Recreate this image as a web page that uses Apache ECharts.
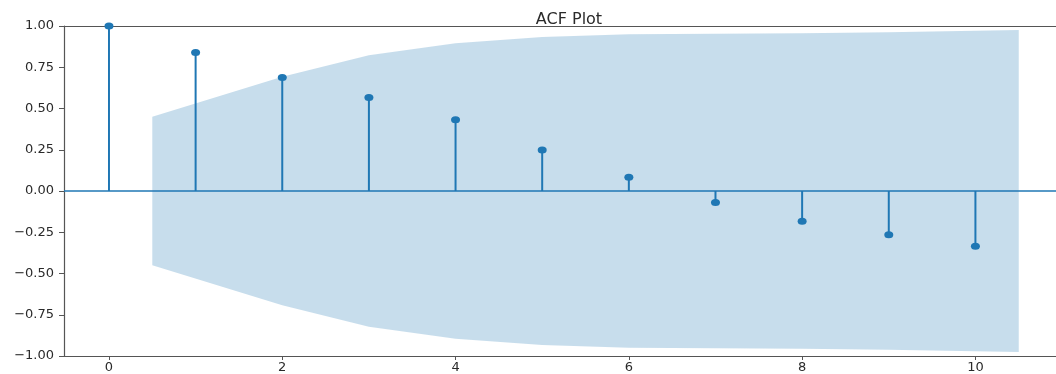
<!DOCTYPE html>
<html>
<head>
<meta charset="utf-8">
<script src="https://cdn.jsdelivr.net/npm/echarts@6/dist/echarts.min.js"></script>
<style>html,body{margin:0;padding:0;background:#fff}#c{width:1056px;height:374px}</style>
</head>
<body>
<div id="c"></div>
<script>
// Lags and autocorrelation values
var lags = [0, 1, 2, 3, 4, 5, 6, 7, 8, 9, 10];
var acfValues = [1.0, 0.839, 0.688, 0.567, 0.432, 0.249, 0.084, -0.069, -0.184, -0.265, -0.335];
// Confidence band (x positions and upper bound; lower = -upper)
var bandX = [0.5, 2, 3, 4, 5, 6, 7, 8, 9, 10.5];
var bandUpper = [0.45, 0.692, 0.823, 0.895, 0.934, 0.950, 0.953, 0.956, 0.962, 0.976];
var bandLower = [-0.45, -0.692, -0.823, -0.895, -0.934, -0.950, -0.953, -0.956, -0.962, -0.976];
var xTicks = [0, 2, 4, 6, 8, 10];
var yTickInterval = 0.25;

var blue = '#1f77b4';
var axisGray = '#555';
var bandData = bandX.map(function (x, i) { return [x, bandLower[i], bandUpper[i]]; });

var chart = echarts.init(document.getElementById('c'));
chart.setOption({
  animation: false,
  title: {
    text: 'ACF Plot', left: 564, top: 7, textAlign: 'center',
    textStyle: { fontFamily: 'DejaVu Sans', fontSize: 16, fontWeight: 'normal', color: '#2a2a2a' }
  },
  grid: { left: 64, right: 0, top: 26, bottom: 17 },
  xAxis: [{
    type: 'value', min: -0.519, max: 10.93,
    axisLine: { show: true, onZero: false, lineStyle: { color: axisGray, width: 1.2 } },
    axisTick: { show: true, length: 4, customValues: xTicks, lineStyle: { color: axisGray } },
    axisLabel: { customValues: xTicks, fontFamily: 'DejaVu Sans', fontSize: 13, color: '#2a2a2a', margin: 5 },
    splitLine: { show: false }
  }, {
    type: 'value', position: 'top', min: -0.519, max: 10.93,
    axisLine: { show: true, onZero: false, lineStyle: { color: axisGray, width: 1.2 } },
    axisTick: { show: false }, axisLabel: { show: false }, splitLine: { show: false }
  }],
  yAxis: {
    type: 'value', min: -1, max: 1, interval: yTickInterval,
    axisLine: { show: true, onZero: false, lineStyle: { color: axisGray, width: 1.2 } },
    axisTick: { show: true, length: 5, lineStyle: { color: axisGray } },
    axisLabel: {
      fontFamily: 'DejaVu Sans', fontSize: 13, color: '#2a2a2a', margin: 10,
      formatter: function (v) { return v.toFixed(2).replace('-', '\u2212'); }
    },
    splitLine: { show: false }
  },
  series: [
    {
      type: 'custom', z: 1, silent: true,
      data: bandData,
      renderItem: function (params, api) {
        if (params.dataIndex !== 0) return null;
        var top = [], bot = [];
        for (var i = 0; i < bandData.length; i++) {
          top.push(api.coord([bandData[i][0], bandData[i][2]]));
          bot.unshift(api.coord([bandData[i][0], bandData[i][1]]));
        }
        return {
          type: 'polygon',
          shape: { points: top.concat(bot) },
          style: { fill: 'rgba(31,119,180,0.25)' }
        };
      }
    },
    {
      type: 'bar', z: 3, barWidth: 2, silent: true,
      itemStyle: { color: blue },
      data: lags.map(function (l, i) { return [l, acfValues[i]]; }),
      markLine: {
        silent: true, symbol: 'none', label: { show: false },
        lineStyle: { color: blue, width: 1.5, type: 'solid' },
        data: [{ yAxis: 0 }]
      }
    },
    {
      type: 'scatter', z: 4, silent: true,
      symbol: 'circle', symbolSize: [9, 7],
      itemStyle: { color: blue, opacity: 1 },
      data: lags.map(function (l, i) { return [l, acfValues[i]]; })
    }
  ]
});
</script>
</body>
</html>
